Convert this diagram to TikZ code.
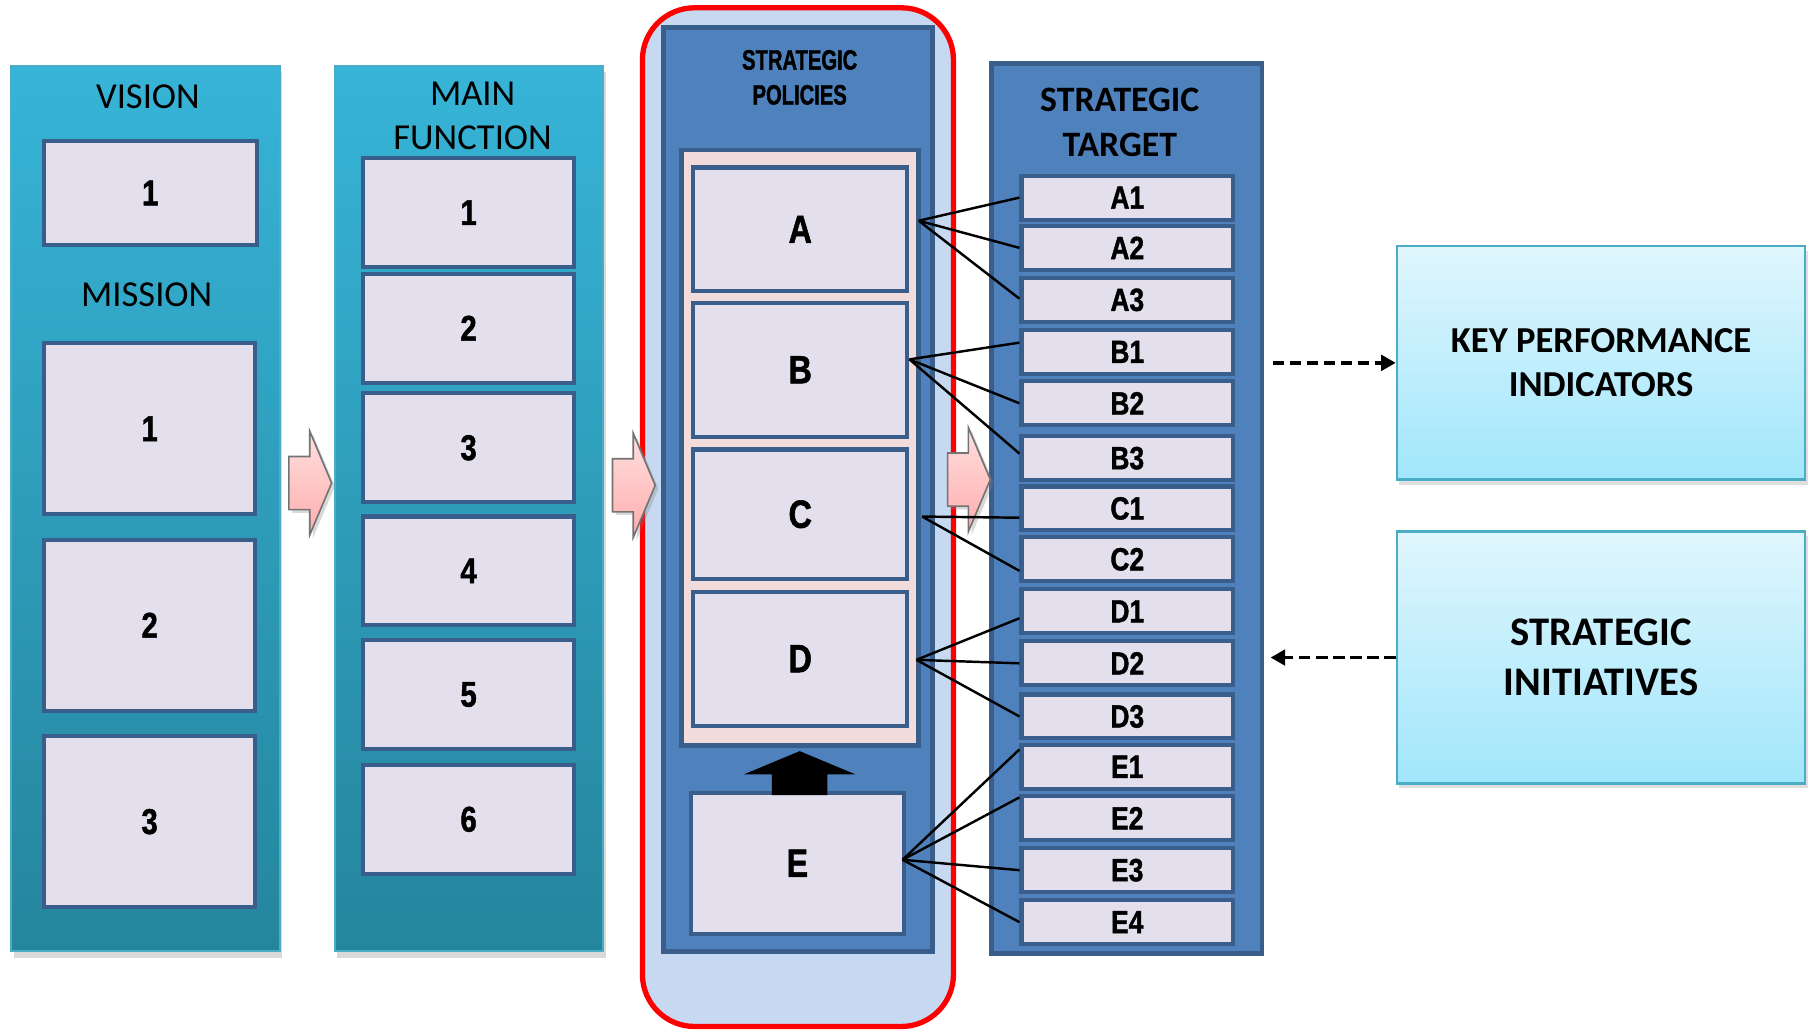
\documentclass[tikz,border=0pt]{standalone}
\usepackage{fontspec}
\setmainfont{Carlito}
\newfontfamily\condfont{Liberation Sans Bold}[FakeStretch=0.82, FakeBold=1.3]
\newfontfamily\condfontx{Liberation Sans Bold}[FakeStretch=0.72, FakeBold=1.3]
\usetikzlibrary{arrows.meta,shadows}

\definecolor{tealtop}{RGB}{55,180,215}
\definecolor{tealbot}{RGB}{37,133,157}
\definecolor{tealedge}{RGB}{75,172,198}
\definecolor{boxfill}{RGB}{228,223,236}
\definecolor{boxedge}{RGB}{58,94,140}
\definecolor{panelblue}{RGB}{79,129,189}
\definecolor{paleblue}{RGB}{198,217,241}
\definecolor{palepink}{RGB}{242,220,219}
\definecolor{skytop}{RGB}{224,246,253}
\definecolor{skybot}{RGB}{161,230,251}
\definecolor{pinktop}{RGB}{255,224,224}
\definecolor{pinkbot}{RGB}{255,172,172}

\begin{document}
\begin{tikzpicture}[x=0.01cm, y=-0.01cm,
  tealpanel/.style={draw=tealedge, line width=0.5pt, top color=tealtop, bottom color=tealbot,
    minimum width=2.32cm, minimum height=7.66cm,
    drop shadow={shadow xshift=0.6pt, shadow yshift=-1.6pt, opacity=0.3}},
  bluepanel/.style={draw=boxedge, line width=1.2pt, fill=panelblue},
  lbox/.style={draw=boxedge, line width=1pt, fill=boxfill, inner sep=0pt,
    font=\condfont\fontsize{8.8}{10}\selectfont},
  tbox/.style={lbox, minimum width=1.83cm, minimum height=0.38cm,
    font=\condfont\fontsize{7.9}{9}\selectfont},
  skybox/.style={draw=tealedge, line width=0.6pt, top color=skytop, bottom color=skybot,
    minimum width=3.53cm, align=center,
    drop shadow={shadow xshift=0.6pt, shadow yshift=-1.2pt, opacity=0.25}},
  title/.style={align=center, font=\fontsize{9}{10.8}\selectfont},
  link/.style={line width=0.6pt},
  dasharrow/.style={line width=0.95pt, dash pattern=on 2.8pt off 1.4pt,
    -{Triangle[length=3.6pt,width=3.8pt]}},
  pinkarrow/.style={draw=black!55, line width=0.4pt, top color=pinktop, bottom color=pinkbot,
    drop shadow={shadow xshift=0.8pt, shadow yshift=-0.8pt, opacity=0.3}}
]
\useasboundingbox (0,0) rectangle (1568,891);

% vision, mission and main function
\node[tealpanel] (vis) at (126,440) {};
\node[tealpanel] (fun) at (406,440) {};
\node[title] (vistitle) at (128,84) {VISION};
\node[title] (mistitle) at (127,255) {MISSION};
\node[title] (funtitle) at (409,100) {MAIN\\FUNCTION};
\node[lbox, minimum width=1.84cm, minimum height=0.90cm] (v1) at (130,167) {1};
\foreach \n/\y in {1/371,2/541,3/711}
  \node[lbox, minimum width=1.83cm, minimum height=1.48cm] (m\n) at (129.5,\y) {\n};
\foreach \n/\y in {1/184,2/284,3/387.5,4/494,5/601,6/709}
  \node[lbox, minimum width=1.83cm, minimum height=0.94cm] (f\n) at (405.5,\y) {\n};

% strategic policies
\node[draw=red, line width=1.3pt, fill=paleblue, rounded corners=0.45cm,
  minimum width=2.69cm, minimum height=8.81cm] (frame) at (690.5,447.5) {};
\node[bluepanel, minimum width=2.33cm, minimum height=7.99cm] (pol) at (690.5,423.5) {};
\node[align=center, font=\condfontx\fontsize{6.9}{8.6}\selectfont] (poltitle) at (692,67) {STRATEGIC\\POLICIES};
\node[draw=boxedge, line width=1.2pt, fill=palepink, minimum width=2.05cm, minimum height=5.15cm] (grp) at (692.5,387.5) {};
\foreach \n/\y/\h in {A/198.5/1.07, B/320/1.16, C/445/1.12, D/570/1.16}
  \node[lbox, minimum width=1.85cm, minimum height=\h cm,
    font=\condfont\fontsize{9.7}{11}\selectfont] (\n) at (692.5,\y) {\n};
\node[lbox, minimum width=1.84cm, minimum height=1.22cm,
  font=\condfont\fontsize{9.7}{11}\selectfont] (E) at (690,747) {E};
\fill (692,650) -- (740,670) -- (716,670) -- (716,688) -- (668,688) -- (668,670) -- (644,670) -- cycle;

% strategic target
\node[bluepanel, minimum width=2.34cm, minimum height=7.70cm] (tgt) at (975,440) {};
\node[align=center, font=\bfseries\fontsize{8.8}{11.1}\selectfont] (tgttitle) at (969,106) {STRATEGIC\\TARGET};
\foreach \n/\y in {A1/171, A2/214.5, A3/259.5, B1/304.5, B2/349, B3/396.5, C1/440, C2/484,
  D1/529, D2/574, D3/620, E1/663.5, E2/708, E3/753, E4/798}
  \node[tbox] (\n) at (975.5,\y) {\n};

% kpi and initiatives
\node[skybox, minimum height=2.02cm, font=\bfseries\fontsize{9}{10.7}\selectfont] (kpi) at (1385.5,314) {KEY PERFORMANCE\\INDICATORS};
\node[skybox, minimum height=2.18cm, font=\bfseries\fontsize{10}{12.2}\selectfont] (ini) at (1385.5,569) {STRATEGIC\\INITIATIVES};

% pink arrows between the columns
\foreach \ax/\ay in {250/418, 530/420, 820/415}
  \draw[pinkarrow] (\ax,\ay-23) -- (\ax+18,\ay-23) -- (\ax+18,\ay-45) -- (\ax+37,\ay)
    -- (\ax+18,\ay+45) -- (\ax+18,\ay+23) -- (\ax,\ay+23) -- cycle;

% policies to targets
\coordinate (Ao) at (795,191);
\coordinate (Bo) at (787,311);
\coordinate (Co) at (798,447);
\coordinate (Do) at (793,571);
\coordinate (Eo) at (781,744);
\foreach \t/\dy in {A1/0,A2/0,A3/-1}
  \draw[link] (Ao) -- ([shift={(0,\dy)}]\t.west);
\foreach \t/\dy in {B1/-8,B2/0,B3/-4}
  \draw[link] (Bo) -- ([shift={(0,\dy)}]\t.west);
\foreach \t/\dy in {C1/8,C2/10}
  \draw[link] (Co) -- ([shift={(0,\dy)}]\t.west);
\foreach \t/\dy in {D1/6,D2/0,D3/0}
  \draw[link] (Do) -- ([shift={(0,\dy)}]\t.west);
\foreach \t/\dy in {E1/-15,E2/-18,E3/0,E4/0}
  \draw[link] (Eo) -- ([shift={(0,\dy)}]\t.west);

\draw[dasharrow, shorten <=2pt] (tgt.east |- kpi.west) -- (kpi.west);
\draw[dasharrow, shorten >=1.5pt] (ini.west) -- (tgt.east |- ini.west);
\end{tikzpicture}
\end{document}
